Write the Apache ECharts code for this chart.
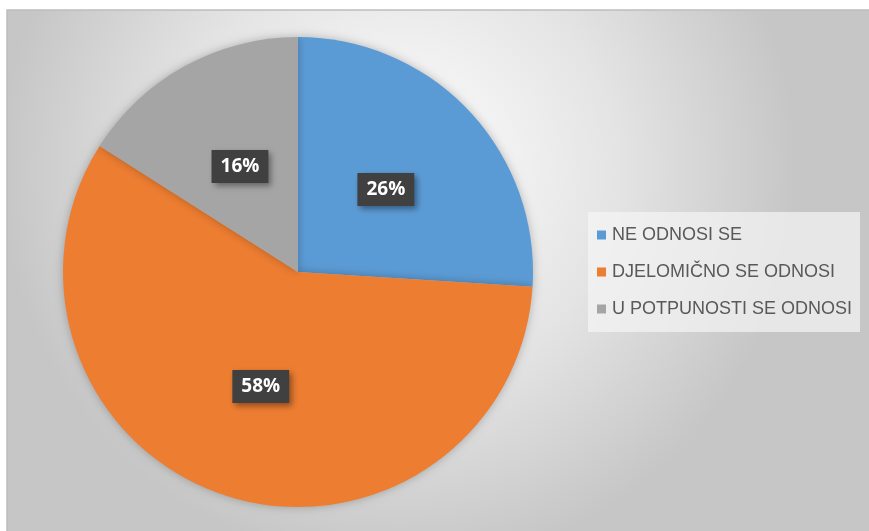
<!DOCTYPE html>
<html><head><meta charset="utf-8">
<script src="https://cdn.jsdelivr.net/npm/echarts@6/dist/echarts.min.js"></script>
<style>html,body{margin:0;padding:0;background:#fff}#c{width:869px;height:531px}</style>
</head><body><div id="c"></div>
<script>
const categories = ['NE ODNOSI SE', 'DJELOMIČNO SE ODNOSI', 'U POTPUNOSTI SE ODNOSI'];
const values = [26, 58, 16];
const colors = ['#5B9BD5', '#ED7D31', '#A5A5A5'];

const chart = echarts.init(document.getElementById('c'), null, {renderer: 'canvas'});
chart.setOption({
  animation: false,
  graphic: [{
    type: 'rect', z: -10, silent: true,
    shape: {x: 7, y: 10, width: 870, height: 530},
    style: {
      fill: new echarts.graphic.RadialGradient(0.45, 0.3, 0.75, [
        {offset: 0, color: '#ffffff'},
        {offset: 0.55, color: '#e4e4e4'},
        {offset: 1, color: '#c6c6c6'}
      ]),
      stroke: '#bdbdbd', lineWidth: 1.5
    }
  }],
  legend: {
    orient: 'vertical',
    left: 588, top: 212,
    itemWidth: 9, itemHeight: 9, itemGap: 19,
    icon: 'rect',
    padding: [14, 8, 14, 9],
    backgroundColor: 'rgba(245,245,245,0.7)',
    textStyle: {color: '#595959', fontSize: 18, fontFamily: 'Liberation Sans', padding: [0, 0, 0, 1]},
    data: categories
  },
  series: [{
    type: 'pie',
    center: [298, 272],
    radius: 235,
    startAngle: 90,
    clockwise: true,
    color: colors,
    itemStyle: {shadowBlur: 10, shadowColor: 'rgba(0,0,0,0.25)'},
    label: {
      show: true, position: 'inside',
      formatter: p => p.value + '%',
      color: '#fff', fontWeight: 'bold', fontSize: 19,
      fontFamily: 'Open Sans, Liberation Sans',
      backgroundColor: '#404040',
      padding: [8, 9, 6, 9],
      shadowBlur: 6, shadowOffsetX: 3, shadowOffsetY: 3, shadowColor: 'rgba(0,0,0,0.4)'
    },
    labelLine: {show: false},
    data: categories.map((c, i) => ({name: c, value: values[i]}))
  }]
});
</script></body></html>
